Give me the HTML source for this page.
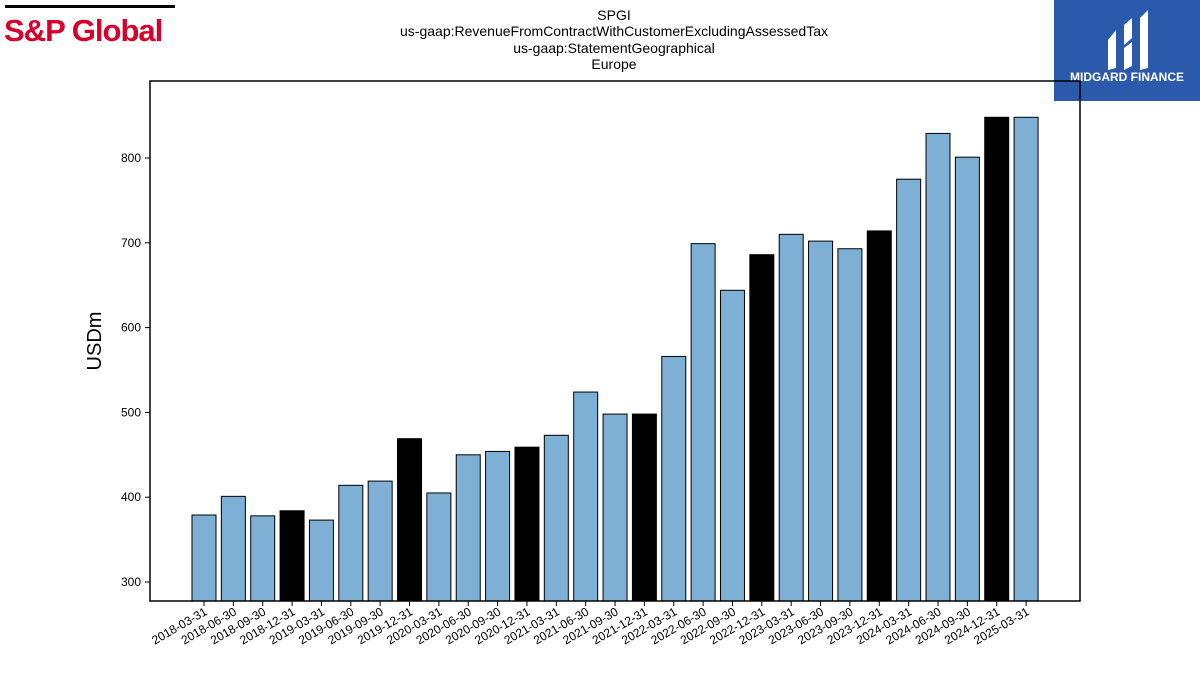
<!DOCTYPE html>
<html><head><meta charset="utf-8"><style>
body{margin:0;width:1200px;height:675px;background:#fff;overflow:hidden;font-family:"Liberation Sans",sans-serif}
</style></head><body>
<svg id="chart" width="1200" height="675" xmlns="http://www.w3.org/2000/svg" font-family="Liberation Sans, sans-serif">
<g>
<rect x="5" y="5" width="170" height="3" fill="#000"/>
<text x="4" y="41" font-size="31" font-weight="bold" fill="#d6002a" letter-spacing="-1">S&amp;P Global</text>
</g>
<g>
<rect x="1054" y="0" width="146" height="101" fill="#2b5aad"/>
<path d="M1108 40 L1116 30 L1116 68 L1108 70 Z M1124 25 L1132 18 L1132 38 L1124 45 Z M1124 48 L1132 42 L1132 66 L1124 70 Z M1140 18 L1148 10 L1148 68 L1140 70 Z" fill="#fff"/>
<text x="1127" y="81" font-size="12" font-weight="bold" fill="#fff" text-anchor="middle">MIDGARD FINANCE</text>
</g>
<g font-size="14" text-anchor="middle" fill="#000">
<text x="614" y="20">SPGI</text>
<text x="614" y="36">us-gaap:RevenueFromContractWithCustomerExcludingAssessedTax</text>
<text x="614" y="53">us-gaap:StatementGeographical</text>
<text x="614" y="69">Europe</text>
</g>
<text transform="translate(101,341) rotate(-90)" font-size="20" text-anchor="middle">USDm</text>
<g id="bars"></g>
<g id="axes"></g>
</svg>
<script>
const categories=["2018-03-31","2018-06-30","2018-09-30","2018-12-31","2019-03-31","2019-06-30","2019-09-30","2019-12-31","2020-03-31","2020-06-30","2020-09-30","2020-12-31","2021-03-31","2021-06-30","2021-09-30","2021-12-31","2022-03-31","2022-06-30","2022-09-30","2022-12-31","2023-03-31","2023-06-30","2023-09-30","2023-12-31","2024-03-31","2024-06-30","2024-09-30","2024-12-31","2025-03-31"];
const values=[379,401,378,384,373,414,419,469,405,450,454,459,473,524,498,498,566,699,644,686,710,702,693,714,775,829,801,848,848];
const yTicks=[300,400,500,600,700,800];
const NS="http://www.w3.org/2000/svg";
const L=150,R=1080,T=81,B=601;
const yMin=277.6,yMax=890.8;
function y(v){return B-(v-yMin)/(yMax-yMin)*(B-T);}
const step=29.36, x0=204;
function x(i){return x0+i*step;}
const bars=document.getElementById('bars'),axes=document.getElementById('axes');
function mk(t,a,p){const e=document.createElementNS(NS,t);for(const k in a)e.setAttribute(k,a[k]);p.appendChild(e);return e;}
categories.forEach((c,i)=>{
 const v=values[i];const q4=c.endsWith("12-31");
 const r=mk('rect',{x:x(i)-12,y:y(v),width:24,height:B-y(v),fill:q4?'#000':'#7eb0d5',stroke:'#000','stroke-width':1},bars);
 
 
 const tk=mk('line',{x1:x(i),x2:x(i),y1:B,y2:B+5,stroke:'#000'},axes);
 
 
 const t=mk('text',{x:0,y:0,'font-size':12,'text-anchor':'end',transform:`translate(${x(i)+4},${B+13}) rotate(-30)`},axes);
 t.textContent=c;
 
 
});
yTicks.forEach(v=>{
 const tk=mk('line',{x1:L-5,x2:L,y1:y(v),y2:y(v),stroke:'#000'},axes);
 
 
 const t=mk('text',{x:L-9,y:y(v)+4,'font-size':12,'text-anchor':'end'},axes);
 t.textContent=v;
 
 
});
const fr=mk('rect',{x:L,y:T,width:R-L,height:B-T,fill:'none',stroke:'#000','stroke-width':1.5},axes);


</script>
</body></html>
